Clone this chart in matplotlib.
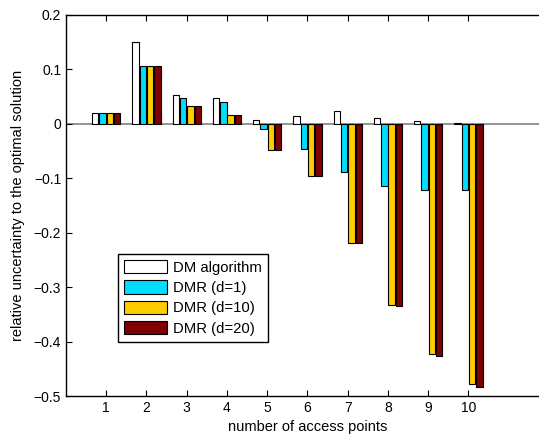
import numpy as np
import matplotlib.pyplot as plt

plt.rcParams['font.family'] = ['Liberation Sans', 'DejaVu Sans']

access_points = [1, 2, 3, 4, 5, 6, 7, 8, 9, 10]
series_names = ['DM algorithm', 'DMR (d=1)', 'DMR (d=10)', 'DMR (d=20)']
dm_algorithm = [0.020, 0.150, 0.053, 0.048, 0.007, 0.015, 0.023, 0.011, 0.006, 0.001]
dmr_d1 = [0.020, 0.106, 0.048, 0.040, -0.009, -0.047, -0.089, -0.114, -0.121, -0.121]
dmr_d10 = [0.020, 0.106, 0.032, 0.016, -0.048, -0.095, -0.218, -0.333, -0.423, -0.478]
dmr_d20 = [0.020, 0.106, 0.032, 0.016, -0.048, -0.095, -0.219, -0.335, -0.426, -0.484]
colors = ['#ffffff', '#00ddff', '#ffcc00', '#7f0000']

fig = plt.figure(figsize=(5.39, 4.37), dpi=100)
# the right spine sits just past the picture edge in the reference
ax = fig.add_axes([66 / 539, 41 / 437, 483 / 539, 381 / 437])

x = np.array(access_points)
step = 0.182
width = 0.16
all_series = [dm_algorithm, dmr_d1, dmr_d10, dmr_d20]
for i, (vals, name, c) in enumerate(zip(all_series, series_names, colors)):
    ax.bar(x + (i - 1.5) * step, vals, width, color=c, edgecolor='black',
           linewidth=0.8, label=name, zorder=2)

ax.axhline(0, color='#808080', linewidth=1.2, zorder=1)

ax.set_xlim(0, 12)
ax.set_ylim(-0.5, 0.2)
ax.set_xticks(access_points)
ax.set_yticks([-0.5, -0.4, -0.3, -0.2, -0.1, 0, 0.1, 0.2])
ax.set_yticklabels(['\u22120.5', '\u22120.4', '\u22120.3', '\u22120.2', '\u22120.1', '0', '0.1', '0.2'])
ax.tick_params(direction='in', top=True, right=True, length=4, width=0.8, labelsize=10)
for s in ax.spines.values():
    s.set_linewidth(1.0)

ax.set_xlabel('number of access points', fontsize=10.5, labelpad=4)
ax.set_ylabel('relative uncertainty to the optimal solution', fontsize=10.5, labelpad=6)

leg = ax.legend(loc='upper left', bbox_to_anchor=(0.1077, 0.3727), borderaxespad=0,
                fontsize=10.7, handlelength=2.9, handleheight=1.0, labelspacing=0.38,
                handletextpad=0.4, borderpad=0.4, fancybox=False, framealpha=1)
leg.get_frame().set_edgecolor('black')
leg.get_frame().set_linewidth(1.0)

fig.savefig('out.png', dpi=100)
